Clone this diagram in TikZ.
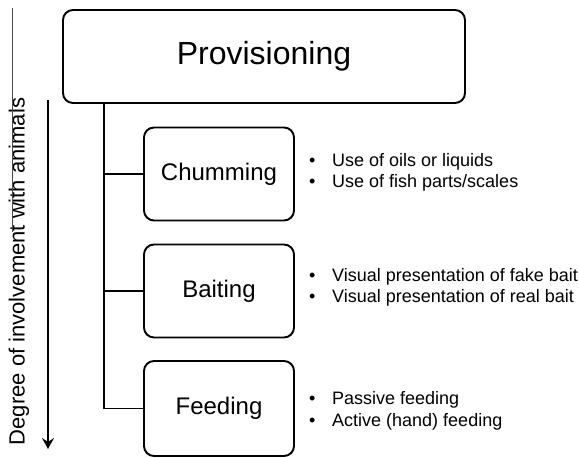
\documentclass[tikz,border=0pt]{standalone}
\usepackage{fontspec}
\setmainfont{Liberation Sans}
\usetikzlibrary{arrows.meta}
\begin{document}
\begin{tikzpicture}[x=1pt,y=-1pt,
  catbox/.style={draw, line width=1.9pt, rounded corners=10pt, inner sep=0pt},
  trunk/.style={line width=1.5pt},
  bullets/.style={anchor=west, inner sep=0pt, align=left, font=\fontsize{18}{21.5}\selectfont}
]
\useasboundingbox (0,0) rectangle (579,458);
% top box
\node[catbox, minimum width=402pt, minimum height=93pt, font=\fontsize{32}{36}\selectfont] (prov) at (264,56.5) {Provisioning};
% sub boxes
\node[catbox, minimum width=150pt, minimum height=93pt, font=\fontsize{24}{28}\selectfont] (chum) at (219,174) {Chumming};
\node[catbox, minimum width=150pt, minimum height=93pt, font=\fontsize{24}{28}\selectfont] (bait) at (219,291) {Baiting};
\node[catbox, minimum width=150pt, minimum height=95pt, font=\fontsize{24}{28}\selectfont] (feed) at (219,408.5) {Feeding};
% trunk
\coordinate (top) at (104,103);
\draw[trunk] (top) |- (feed.west);
\draw[trunk] (top) |- (chum.west);
\draw[trunk] (top) |- (bait.west);
% bullets
\node[bullets] (bc) at (309,172.5) {\makebox[23pt][l]{•}Use of oils or liquids\\\makebox[23pt][l]{•}Use of fish parts/scales};
\node[bullets] (bb) at (309,287.5) {\makebox[23pt][l]{•}Visual presentation of fake bait\\\makebox[23pt][l]{•}Visual presentation of real bait};
\node[bullets] (bf) at (309,411) {\makebox[23pt][l]{•}Passive feeding\\\makebox[23pt][l]{•}Active (hand) feeding};
% degree arrow
\coordinate (as) at (48,100);
\coordinate (ae) at (48,449);
\draw[line width=2.8pt, -{Stealth[length=11pt,width=12pt,inset=4pt]}] (as) -- (ae);
\node[rotate=90, inner sep=0pt, font=\fontsize{22}{26}\selectfont] (deg) at (19,271.5) {Degree of involvement with animals};
% thin stray line
\coordinate (la) at (12,8);
\coordinate (lb) at (12,232);
\draw[line width=0.5pt, black!70] (la) -- (lb);
\end{tikzpicture}
\end{document}
